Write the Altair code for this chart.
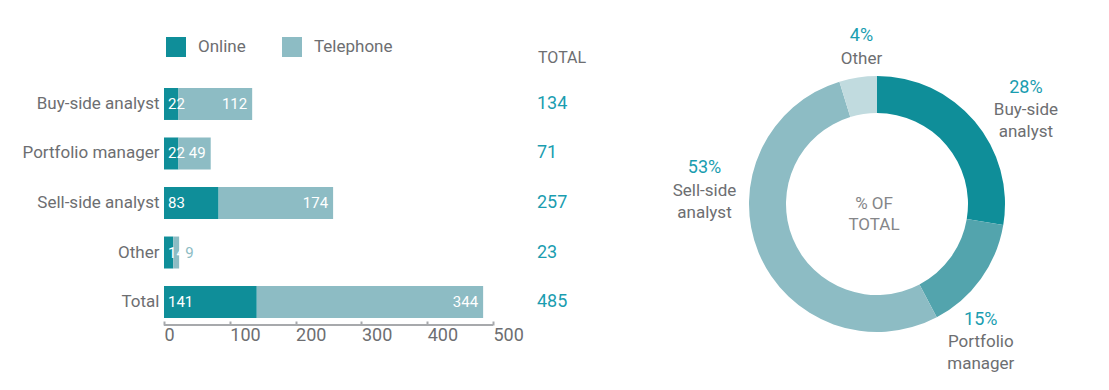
import altair as alt
import pandas as pd

# ---------------- data ----------------
categories = ["Buy-side analyst", "Portfolio manager", "Sell-side analyst", "Other", "Total"]
online = [22, 22, 83, 14, 141]
telephone = [112, 49, 174, 9, 344]
channels = ["Online", "Telephone"]
x_ticks = [0, 100, 200, 300, 400, 500]
total_header = ["TOTAL"]

donut_categories = ["Buy-side analyst", "Portfolio manager", "Sell-side analyst", "Other"]
donut_counts = [134, 71, 257, 23]
donut_pct_labels = ["28%", "15%", "53%", "4%"]
donut_name_labels = ["Buy-side\nanalyst", "Portfolio\nmanager", "Sell-side\nanalyst", "Other"]
center_text = ["% OF\nTOTAL"]

# ---------------- style ----------------
FONT = "Roboto"
GREY = "#6d6e71"
AXIS_GREY = "#a7a9ac"
TEAL_TEXT = "#1a9db0"
BAR_COLORS = ["#0f8e99", "#8dbcc4"]
ARC_COLORS = ["#0f8e99", "#53a4ad", "#8dbcc4", "#c1dbdf"]

W_L, H_L = 329, 236
W_R, H_R = 238, 238

# ---------------- tables ----------------
long_rows = []
for c, o, t in zip(categories, online, telephone):
    long_rows.append({"category": c, "channel": channels[0], "value": o, "idx": 0})
    long_rows.append({"category": c, "channel": channels[1], "value": t, "idx": 1})
long_df = pd.DataFrame(long_rows)

wide_df = pd.DataFrame({"category": categories, "online": online, "telephone": telephone})
wide_df["total"] = wide_df["online"] + wide_df["telephone"]

header_df = pd.DataFrame({"label": total_header})
axis_df = pd.DataFrame({"start": [x_ticks[0]], "end": [x_ticks[-1]]})

donut_df = pd.DataFrame({
    "category": donut_categories,
    "count": donut_counts,
    "pct": donut_pct_labels,
    "name": donut_name_labels,
    "idx": list(range(len(donut_categories))),
})
center_df = pd.DataFrame({"t": center_text})

# ---------------- left: stacked bars ----------------
x_scale = alt.Scale(domain=[x_ticks[0], x_ticks[-1]], nice=False)
x_axis = alt.Axis(values=x_ticks, domain=False, grid=False, tickSize=4, tickWidth=2,
                  tickColor=AXIS_GREY, labelAlign="left", labelFlush=False, labelPadding=1,
                  labelFont=FONT, labelFontSize=18, labelColor=GREY, labelBaseline="top")
y_enc = alt.Y("category:N", sort=categories, title=None,
              scale=alt.Scale(paddingInner=0.354, paddingOuter=0.06),
              axis=alt.Axis(domain=False, ticks=False, labelPadding=5, labelFont=FONT,
                            labelFontSize=17, labelColor=GREY))

bars = alt.Chart(long_df).mark_bar().encode(
    x=alt.X("value:Q", stack="zero", scale=x_scale, axis=x_axis, title=None),
    y=y_enc,
    color=alt.Color("channel:N",
                    scale=alt.Scale(domain=channels, range=BAR_COLORS),
                    legend=alt.Legend(title=None, orient="none", legendX=2, legendY=-48,
                                      direction="horizontal", columns=2, gridAlign="all",
                                      symbolType="square", symbolSize=400, symbolStrokeWidth=0,
                                      symbolOpacity=1, labelFont=FONT, labelFontSize=17,
                                      labelColor=GREY, labelOffset=12, columnPadding=5)),
    order=alt.Order("idx:Q"),
)

axis_line = alt.Chart(axis_df).mark_rule(color=AXIS_GREY, strokeWidth=2).encode(
    x=alt.X("start:Q", scale=x_scale, axis=x_axis, title=None),
    x2="end:Q",
    y=alt.value(H_L + 4),
)

online_lbl = alt.Chart(wide_df).mark_text(
    align="left", baseline="middle", dx=4, color="white", font=FONT, fontSize=15
).encode(
    x=alt.XDatum(0, scale=x_scale, axis=x_axis, title=None),
    y=y_enc,
    text="online:Q",
)

tel_big = alt.Chart(wide_df).transform_filter("datum.telephone >= 20").mark_text(
    align="right", baseline="middle", dx=-5, color="white", font=FONT, fontSize=15
).encode(
    x=alt.X("total:Q", scale=x_scale, axis=x_axis, title=None),
    y=y_enc,
    text="telephone:Q",
)

tel_small = alt.Chart(wide_df).transform_filter("datum.telephone < 20").mark_text(
    align="left", baseline="middle", dx=6, color=BAR_COLORS[1], font=FONT, fontSize=15
).encode(
    x=alt.X("total:Q", scale=x_scale, axis=x_axis, title=None),
    y=y_enc,
    text="telephone:Q",
)

totals = alt.Chart(wide_df).mark_text(
    align="left", baseline="middle", color=TEAL_TEXT, font=FONT, fontSize=18
).encode(
    x=alt.value(W_L + 44),
    y=y_enc,
    text="total:Q",
)

header = alt.Chart(header_df).mark_text(
    align="left", baseline="middle", color=GREY, font=FONT, fontSize=16
).encode(
    x=alt.value(W_L + 45),
    y=alt.value(-27),
    text="label:N",
)

left = alt.layer(bars, axis_line, online_lbl, tel_big, tel_small, totals, header).properties(
    width=W_L, height=H_L
)

# ---------------- right: donut ----------------
arc = alt.Chart(donut_df).mark_arc(outerRadius=128, innerRadius=91).encode(
    theta=alt.Theta("count:Q", stack=True),
    order=alt.Order("idx:Q"),
    color=alt.Color("category:N", scale=alt.Scale(domain=donut_categories, range=ARC_COLORS),
                    legend=None),
)

# slice mid-angles computed from the cumulative counts
label_base = alt.Chart(donut_df).transform_window(
    cum="sum(count)", sort=[alt.SortField("idx")], frame=[None, 0]
).transform_calculate(mid="datum.cum - datum.count / 2")

R = 165
# per-label nudges (dx, dy for percentage, dy for first line of name)
nudges = {
    "Buy-side analyst": (23, -9, 13),
    "Portfolio manager": (-30, 19, 41),
    "Sell-side analyst": (-20, -99, -76),
    "Other": (9, -5, 18),
}
label_layers = []
for cat in donut_categories:
    dx, dyp, dyn = nudges[cat]
    sub = label_base.transform_filter(alt.datum.category == cat)
    label_layers.append(
        sub.mark_text(radius=R, dx=dx, dy=dyp, align="center", baseline="middle",
                      font=FONT, fontSize=18, color=TEAL_TEXT).encode(
            theta=alt.Theta("mid:Q", stack=None), text="pct:N"
        )
    )
    label_layers.append(
        sub.mark_text(radius=R, dx=dx, dy=dyn, align="center", baseline="middle",
                      lineBreak="\n", lineHeight=22, font=FONT, fontSize=17,
                      color=GREY).encode(
            theta=alt.Theta("mid:Q", stack=None), text="name:N"
        )
    )

center = alt.Chart(center_df).mark_text(
    align="center", baseline="middle", lineBreak="\n", lineHeight=21,
    font=FONT, fontSize=17, color="#858689", dx=-3
).encode(text="t:N")

right = alt.layer(arc, *label_layers, center).properties(width=W_R, height=H_R)

chart = alt.hconcat(left, right, spacing=265, bounds="flush").resolve_scale(
    color="independent"
).properties(
    padding={"left": 14, "top": 18, "right": 5, "bottom": 5}
).configure(font=FONT).configure_view(stroke=None)

chart.save("out.html", embed_options={"renderer": "svg", "actions": False})
